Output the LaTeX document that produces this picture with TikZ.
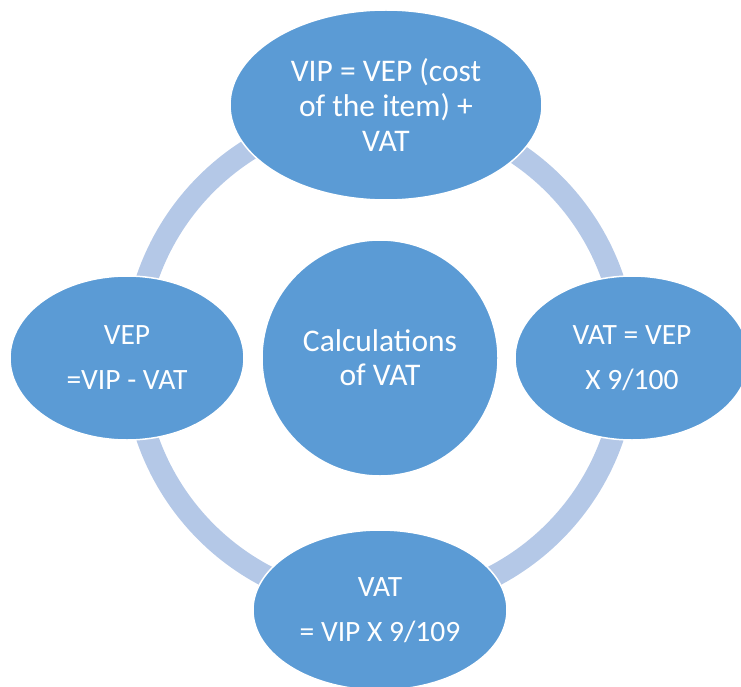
\documentclass[tikz,border=0pt]{standalone}
\usepackage{fontspec}
\setmainfont{Carlito}
\usetikzlibrary{shapes.geometric}
\definecolor{fillblue}{HTML}{5B9BD5}
\definecolor{ringblue}{HTML}{B4C8E7}
\tikzset{
  bubble/.style={ellipse, fill=fillblue, draw=white, line width=1.5pt, inner sep=0pt,
    text=white, align=center},
  bigtext/.style={font=\fontsize{31.5}{35}\selectfont},
  smalltext/.style={font=\fontsize{29.5}{45}\selectfont},
  ringline/.style={draw=ringblue, line width=22pt}
}
\begin{document}
\begin{tikzpicture}[x=1pt,y=-1pt]
\useasboundingbox (0,0) rectangle (741,687);
\coordinate (c) at (380,358);
\draw[ringline] (c) circle (246);
\node[bubble, bigtext, minimum width=312pt, minimum height=190pt] (top) at (386,105)
  {VIP = VEP (cost\\of the item) +\\VAT};
\node[bubble, smalltext, minimum width=234pt, minimum height=164pt] (right) at (632,358)
  {VAT = VEP\\X 9/100};
\node[bubble, smalltext, minimum width=254pt, minimum height=160pt] (bottom) at (380,610)
  {VAT\\= VIP X 9/109};
\node[bubble, smalltext, minimum width=234pt, minimum height=164pt] (left) at (127,358)
  {VEP\\=VIP - VAT};
\node[bubble, circle, font=\fontsize{31.5}{34}\selectfont, minimum size=236pt] (center) at (c)
  {Calculations\\of VAT};
\end{tikzpicture}
\end{document}
